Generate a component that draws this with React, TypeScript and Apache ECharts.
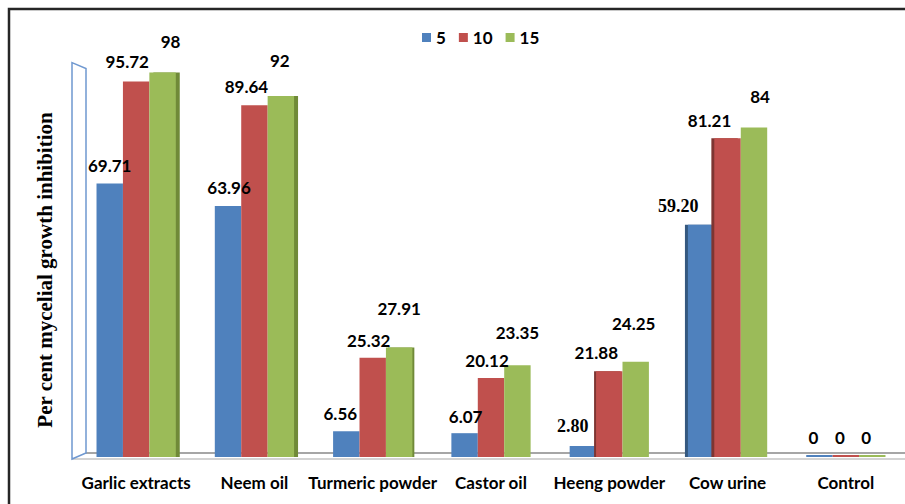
import React, { useEffect, useRef } from "react";
import * as echarts from "echarts";

// ---- data ----
const categories = [
  "Garlic extracts",
  "Neem oil",
  "Turmeric powder",
  "Castor oil",
  "Heeng powder",
  "Cow urine",
  "Control",
];
const seriesNames = ["5", "10", "15"];
const values5 = [69.71, 63.96, 6.56, 6.07, 2.8, 59.2, 0];
const values10 = [95.72, 89.64, 25.32, 20.12, 21.88, 81.21, 0];
const values15 = [98, 92, 27.91, 23.35, 24.25, 84, 0];
const yTitle = "Per cent mycelial growth inhibition";

// ---- style ----
const W = 905;
const H = 504;
const GRID_LEFT = 77;
const GRID_TOP = 64.6;
const GRID_BOTTOM = 47;
const GRID_WIDTH = 838;
const BASE_Y = H - GRID_BOTTOM;
const colors = ["#4f81bd", "#c0504d", "#9bbb59"];
const sideColors = ["#34587f", "#7e3432", "#6f8a38"];
const SANS = "Lato";
const SERIF = "Liberation Serif";

// label nudges relative to the default "top" label position
const labelNudge = [
  [[0, -4], [1, -5], [-6, -4], [1, -3], [-10, -6], [-23, -5], [-6, -4]],
  [[-9, -6], [-8, -5], [-4, -4], [-4, -4], [-13, -5], [-18, -4], [-6, -4]],
  [[8, -17], [-1, -22], [0, -25], [0, -19], [-2, -25], [6, -17], [-6, -4]],
];
// 3D side faces (shadow offset in px) per series per category
const sideOffset = [
  [0, 0, 0, 0, 0, -3, 0],
  [0, 0, 0, 0, -2, -3, 0],
  [4, 4, 2, 0, 0, 0, 0],
];
const serifLabels = [[4, 5], [], []];

function fmt(v: number) {
  return Number.isInteger(v) ? String(v) : v.toFixed(2);
}

export default function App() {
  const ref = useRef<HTMLDivElement>(null);
  useEffect(() => {
    if (!ref.current) return;
    const chart = echarts.init(ref.current, undefined, { renderer: "svg" });
    const all = [values5, values10, values15];
    const series = all.map((vals, s) => ({
      name: seriesNames[s],
      type: "bar",
      barGap: "0%",
      barCategoryGap: "33%",
      barMinHeight: 2,
      itemStyle: { color: colors[s] },
      label: {
        show: true,
        position: "top",
        distance: 5,
        color: "#000",
        fontFamily: SANS,
        fontWeight: "bold",
        fontSize: 17,
        formatter: (p: any) =>
          serifLabels[s].includes(p.dataIndex)
            ? "{s|" + fmt(p.value) + "}"
            : "{n|" + fmt(p.value) + "}",
        rich: {
          n: { fontFamily: SANS, fontWeight: "bold", fontSize: 17, color: "#000" },
          s: { fontFamily: SERIF, fontWeight: "bold", fontSize: 18, color: "#000" },
        },
      },
      data: vals.map((v, i) => {
        const off = sideOffset[s][i];
        const item: any = {
          value: v,
          label: { offset: labelNudge[s][i] },
        };
        if (off !== 0) {
          item.itemStyle = {
            color: colors[s],
            shadowColor: sideColors[s],
            shadowBlur: 0,
            shadowOffsetX: off,
            shadowOffsetY: 0,
          };
        }
        return item;
      }),
    }));

    const wallL = GRID_LEFT - 5;
    const wallR = GRID_LEFT + 9;
    const option: any = {
      animation: false,
      backgroundColor: "#fff",
      legend: {
        data: seriesNames,
        left: 417,
        top: 24,
        icon: "rect",
        itemWidth: 9,
        itemHeight: 9,
        itemGap: 13,
        textStyle: { fontFamily: SANS, fontWeight: "bold", fontSize: 17, color: "#000" },
      },
      grid: { left: GRID_LEFT, top: GRID_TOP, width: GRID_WIDTH, bottom: GRID_BOTTOM, containLabel: false },
      xAxis: {
        type: "category",
        data: categories,
        axisLine: { show: false },
        axisTick: { show: false },
        axisLabel: {
          interval: 0,
          margin: 17,
          fontFamily: SANS,
          fontWeight: "bold",
          fontSize: 17,
          color: "#000",
        },
      },
      yAxis: {
        type: "value",
        min: 0,
        max: 100,
        axisLine: { show: false },
        axisTick: { show: false },
        axisLabel: { show: false },
        splitLine: { show: false },
      },
      graphic: [
        {
          type: "rect",
          shape: { x: 9, y: 9, width: 1000, height: 1000 },
          style: { fill: "none", stroke: "#262626", lineWidth: 2.5 },
          z: 0,
        },
        {
          type: "line",
          shape: { x1: wallR, y1: BASE_Y - 4, x2: W, y2: BASE_Y - 4 },
          style: { stroke: "#a6a6a6", lineWidth: 2 },
          z: 0,
        },
        {
          type: "line",
          shape: { x1: wallL, y1: BASE_Y + 2, x2: W, y2: BASE_Y + 2 },
          style: { stroke: "#c4c4c4", lineWidth: 1.5 },
          z: 0,
        },
        {
          type: "polygon",
          shape: {
            points: [
              [wallL, GRID_TOP - 2],
              [wallR, GRID_TOP + 4],
              [wallR, BASE_Y - 4],
              [wallL, BASE_Y + 2],
            ],
          },
          style: { fill: "none", stroke: "#6f98d0", lineWidth: 1.5 },
          z: 0,
        },
        {
          type: "text",
          x: 45,
          y: 270,
          rotation: Math.PI / 2,
          style: {
            text: yTitle,
            fontFamily: SERIF,
            fontWeight: "bold",
            fontSize: 21,
            fill: "#000",
            textAlign: "center",
            textVerticalAlign: "middle",
          },
          z: 5,
        },
      ],
      series,
    };
    chart.setOption(option);
    return () => chart.dispose();
  }, []);
  return (
    <div
      ref={ref}
      style={{ position: "fixed", left: 0, top: 0, width: W, height: H, background: "#fff" }}
    />
  );
}
